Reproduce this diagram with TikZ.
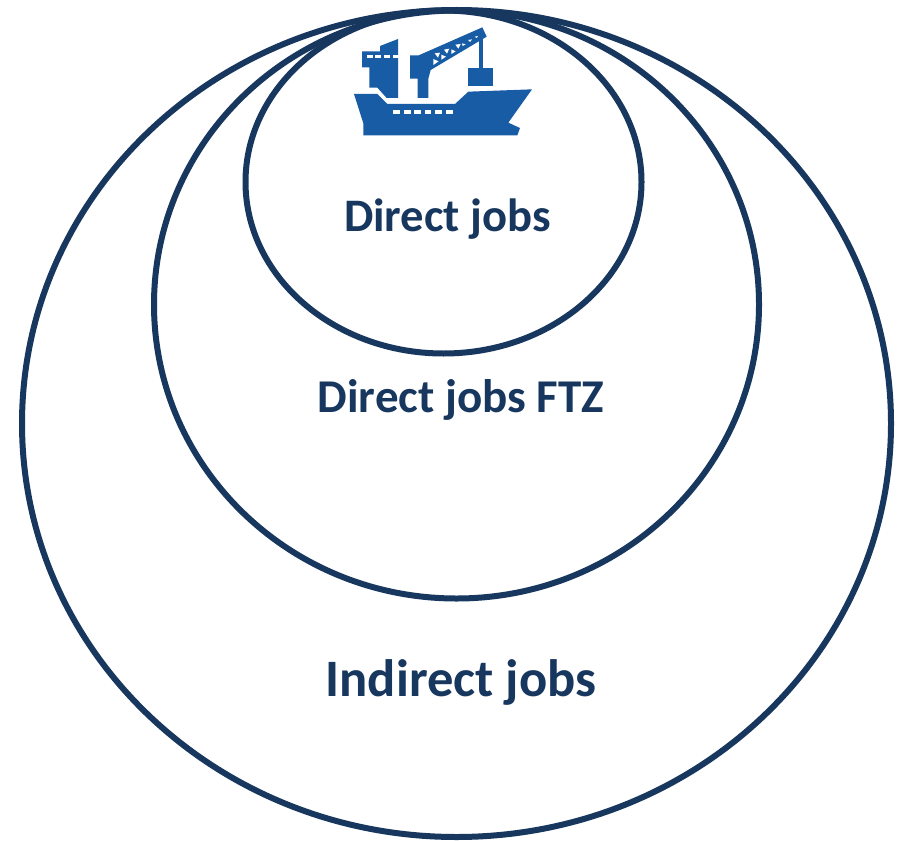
\documentclass[tikz,border=0pt]{standalone}
\usepackage{fontspec}
\setmainfont{Carlito}
\definecolor{ringblue}{HTML}{17375E}
\definecolor{shipblue}{HTML}{175CA5}
\tikzset{
  ring/.style={draw=ringblue,line width=6pt},
  lbl/.style={text=ringblue,font=\bfseries,inner sep=0pt,anchor=base},
  shipfill/.style={fill=shipblue,draw=none},
  gap/.style={fill=white,draw=none}
}
\newcommand{\Z}[2]{({340+(#1)/3},{10+(#2)/3})}
\begin{document}
\begin{tikzpicture}[x=1pt,y=-1pt]
\useasboundingbox (0,0) rectangle (901,840);
\fill[white] (0,0) rectangle (901,840);
\draw[ring] (456.5,423.5) ellipse [x radius=434.5,y radius=413.5];
\draw[ring] (456.5,304.5) ellipse [x radius=302.5,y radius=294];
\draw[ring] (443.5,182) ellipse [x radius=198,y radius=171.5];
% ship
\fill[shipfill] \Z{42}{252} -- \Z{112}{252} -- \Z{142}{282} -- \Z{345}{282} -- \Z{385}{245} -- \Z{576}{238} -- \Z{505}{338} -- \Z{540}{354} -- \Z{532}{376} -- \Z{70}{376} -- \Z{70}{340} -- cycle;
\fill[shipfill] \Z{66}{124} -- \Z{120}{124} -- \Z{120}{108} -- \Z{174}{87} -- \Z{174}{264} -- \Z{140}{264} -- \Z{112}{233} -- \Z{88}{233} -- \Z{88}{172} -- \Z{66}{172} -- cycle;
\fill[shipfill] \Z{210}{136} -- \Z{236}{136} -- \Z{427}{52} -- \Z{440}{80} -- \Z{272}{180} -- \Z{265}{206} -- \Z{265}{264} -- \Z{233}{264} -- \Z{233}{206} -- \Z{210}{206} -- cycle;
\fill[shipfill] \Z{417}{80} rectangle \Z{428}{176};
\fill[shipfill] \Z{385}{175} rectangle \Z{458}{227};
% windows
\foreach \a in {80,106,132,158}{\fill[gap] \Z{\a}{135} rectangle \Z{\a+18}{145};}
\foreach \a in {160,192,223,254,286,318}{\fill[gap] \Z{\a}{301} rectangle \Z{\a+20}{311};}
% truss
\fill[gap] \Z{280}{147} -- \Z{296}{154} -- \Z{280}{165} -- cycle;
\fill[gap] \Z{284}{130} -- \Z{300}{128} -- \Z{294}{143} -- cycle;
\fill[gap] \Z{304}{134} -- \Z{318}{140} -- \Z{304}{149} -- cycle;
\fill[gap] \Z{312}{119} -- \Z{328}{116} -- \Z{321}{131} -- cycle;
\fill[gap] \Z{334}{118} -- \Z{347}{124} -- \Z{334}{132} -- cycle;
\fill[gap] \Z{346}{104} -- \Z{362}{102} -- \Z{355}{116} -- cycle;
\fill[gap] \Z{366}{100} -- \Z{377}{103} -- \Z{368}{108} -- cycle;
\fill[gap] \Z{384}{90} -- \Z{396}{88} -- \Z{390}{96} -- cycle;
\fill[gap] \Z{404}{80} -- \Z{414}{78} -- \Z{410}{84} -- cycle;
% labels
\node[lbl,font=\bfseries\fontsize{46.6}{46.6}\selectfont] (direct) at (447.5,231) {Direct jobs};
\node[lbl,font=\bfseries\fontsize{47}{47}\selectfont] (ftz) at (461,412) {Direct jobs FTZ};
\node[lbl,font=\bfseries\fontsize{52.6}{52.6}\selectfont] (indirect) at (461,696) {Indirect jobs};
\end{tikzpicture}
\end{document}
